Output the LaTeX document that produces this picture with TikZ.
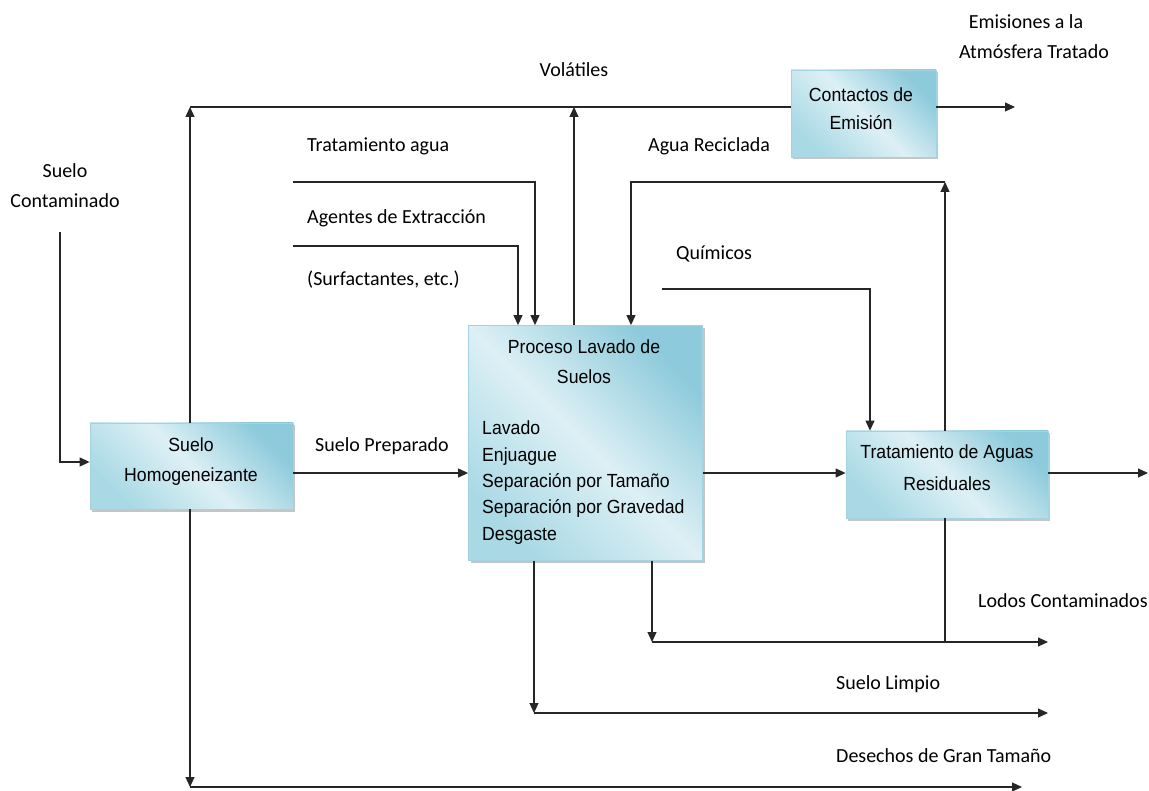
\documentclass[tikz,border=0pt]{standalone}
\usepackage{fontspec}
\setmainfont{Carlito}
\newfontfamily\boxfont[FakeStretch=0.93]{Liberation Sans}
\usetikzlibrary{arrows.meta,shadows}
\definecolor{bdark}{HTML}{8DCADB}
\definecolor{bmid}{HTML}{A9D9E5}
\definecolor{blight}{HTML}{DDF0F5}
\definecolor{bborder}{HTML}{A3D3E0}
\pgfdeclarehorizontalshading{boxshade}{100bp}{color(0bp)=(bmid); color(25bp)=(bmid); color(50bp)=(blight); color(75bp)=(bdark); color(100bp)=(bdark)}
\begin{document}
\begin{tikzpicture}[x=1pt,y=-1pt,
  box/.style={draw=bborder, line width=0.8pt, shading=boxshade, shading angle=45,
    drop shadow={shadow xshift=2pt,shadow yshift=-2.5pt,fill=black!45,opacity=0.5}, inner sep=0pt},
  lbl/.style={font=\fontsize{20}{24}\selectfont, inner sep=0pt, text=black},
  btxt/.style={font=\boxfont\fontsize{19}{30}\selectfont, inner sep=0pt, text=black},
  ln/.style={line width=1.2pt, draw=black!85},
  arr/.style={ln, -{Triangle[length=10pt,width=9pt]}},
]
\useasboundingbox (0,0) rectangle (1149,791);

% boxes
\node[box, minimum width=203pt, minimum height=86pt] (sh) at (191.5,466) {};
\node[box, minimum width=234pt, minimum height=235pt] (p) at (585.5,443) {};
\node[box, minimum width=145pt, minimum height=87pt] (c) at (863.5,113.5) {};
\node[box, minimum width=202pt, minimum height=87pt] (t) at (947,474.5) {};

% box texts
\node[btxt, anchor=base] (sht1) at (191,452) {Suelo};
\node[btxt, anchor=base] (sht2) at (191,482) {Homogeneizante};
\node[btxt, anchor=base] (pt1) at (584,354) {Proceso Lavado de};
\node[btxt, anchor=base] (pt2) at (584,384) {Suelos};
\node[btxt, font=\boxfont\fontsize{19}{26.3}\selectfont, anchor=base west] (plist) at (482,435)
  {\parbox[t]{215pt}{\raggedright Lavado\\Enjuague\\Separación por Tamaño\\Separación por Gravedad\\Desgaste}};
\node[btxt, anchor=base] (ct1) at (861,102) {Contactos de};
\node[btxt, anchor=base] (ct2) at (861,130) {Emisión};
\node[btxt, anchor=base] (tt1) at (947,459) {Tratamiento de Aguas};
\node[btxt, anchor=base] (tt2) at (947,490) {Residuales};

% labels
\node[lbl, anchor=base] (sc1) at (65,178) {Suelo};
\node[lbl, anchor=base] (sc2) at (65,208) {Contaminado};
\node[lbl, anchor=base] (vol) at (574,77) {Volátiles};
\node[lbl, anchor=base] (em1) at (1026,29) {Emisiones a la};
\node[lbl, anchor=base] (em2) at (1034,59) {Atmósfera Tratado};
\node[lbl, anchor=base west] (tag) at (307,152) {Tratamiento agua};
\node[lbl, anchor=base west] (age) at (307,224) {Agentes de Extracción};
\node[lbl, anchor=base west] (sur) at (307,286) {(Surfactantes, etc.)};
\node[lbl, anchor=base west] (arc) at (648,152) {Agua Reciclada};
\node[lbl, anchor=base west] (qui) at (676,260) {Químicos};
\node[lbl, anchor=base west] (spr) at (315,452) {Suelo Preparado};
\node[lbl, anchor=base west] (lod) at (978,607) {Lodos Contaminados};
\node[lbl, anchor=base west] (sli) at (836,689) {Suelo Limpio};
\node[lbl, anchor=base west] (des) at (836,762) {Desechos de Gran Tamaño};

% coordinates
\coordinate (scs) at (60,232);
\coordinate (vtop) at (190,107);
\coordinate (volx) at (574,107);
\coordinate (emend) at (1015,107);
\coordinate (tas) at (293,182);
\coordinate (tac) at (535,182);
\coordinate (ags) at (293,246);
\coordinate (agc) at (518,246);
\coordinate (aru) at (945,182);
\coordinate (arc2) at (631,182);
\coordinate (qs) at (662,289);
\coordinate (qc) at (870,289);
\coordinate (mid) at (0,473);
\coordinate (outend) at (1148,473);
\coordinate (lodc) at (652,642);
\coordinate (lodj) at (945,642);
\coordinate (lode) at (1048,642);
\coordinate (slc) at (534,713);
\coordinate (sle) at (1048,713);
\coordinate (dsc) at (190,787);
\coordinate (dse) at (1022,787);

% connectors
\draw[arr] (scs) |- ([yshift=4pt]sh.west);
\draw[arr] (vtop |- sh.north) -- (vtop);
\draw[ln] (vtop) -- (vtop -| c.west);
\draw[arr] (volx |- p.north) -- (volx);
\draw[arr] (vtop -| c.east) -- (emend);
\draw[arr] (tas) -- (tac) -- (tac |- p.north);
\draw[arr] (ags) -- (agc) -- (agc |- p.north);
\draw[arr] (aru |- t.north) -- (aru);
\draw[arr] (aru) -- (arc2) -- (arc2 |- p.north);
\draw[arr] (qs) -- (qc) -- (qc |- t.north);
\draw[arr] (sh.east |- mid) -- (p.west |- mid);
\draw[arr] (p.east |- mid) -- (t.west |- mid);
\draw[arr] (t.east |- mid) -- (outend);
\draw[arr] (lodc |- p.south) -- (lodc);
\draw[arr] (lodc) -- (lode);
\draw[ln] (lodj |- t.south) -- (lodj);
\draw[arr] (slc |- p.south) -- (slc);
\draw[arr] (slc) -- (sle);
\draw[arr] (vtop |- sh.south) -- (dsc);
\draw[arr] (dsc) -- (dse);
\end{tikzpicture}
\end{document}
